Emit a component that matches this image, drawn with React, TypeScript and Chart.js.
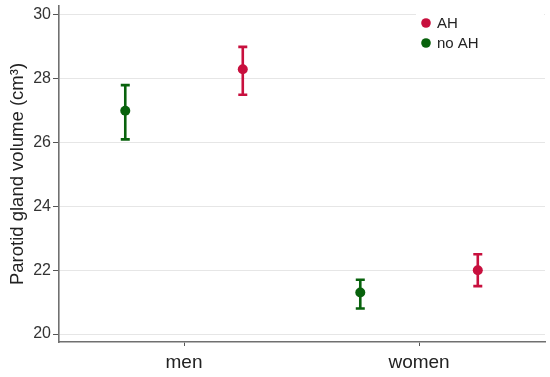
import React, { useEffect, useRef } from 'react';
import { Chart, registerables } from 'chart.js';

Chart.register(...registerables);

// ---- data ----
const categories = ['men', 'women'];
const seriesLabels = ['AH', 'no AH'];
const seriesColors = ['#c8103e', '#08620c'];
const ahMean = [28.3, 22.0];
const ahLow = [27.5, 21.5];
const ahHigh = [29.0, 22.5];
const noAhMean = [27.0, 21.3];
const noAhLow = [26.1, 20.8];
const noAhHigh = [27.8, 21.7];
const yTicks = [20, 22, 24, 26, 28, 30];
const seriesOffsets = [0.25, -0.25];

const FONT = "'Liberation Sans', Arial, sans-serif";

const errorBarPlugin = {
  id: 'errorBars',
  afterDatasetsDraw(chart: any) {
    const { ctx } = chart;
    const xs = chart.scales.x;
    const ys = chart.scales.y;
    chart.data.datasets.forEach((ds: any) => {
      ctx.save();
      ctx.strokeStyle = ds.backgroundColor;
      ctx.lineWidth = 2.6;
      ctx.lineCap = 'butt';
      ds.data.forEach((p: any) => {
        const x = xs.getPixelForValue(p.x);
        const y1 = ys.getPixelForValue(p.low);
        const y2 = ys.getPixelForValue(p.high);
        ctx.beginPath();
        ctx.moveTo(x, y1);
        ctx.lineTo(x, y2);
        ctx.moveTo(x - 4.5, y1);
        ctx.lineTo(x + 4.5, y1);
        ctx.moveTo(x - 4.5, y2);
        ctx.lineTo(x + 4.5, y2);
        ctx.stroke();
      });
      ctx.restore();
    });
  },
};

const legendPlugin = {
  id: 'customLegend',
  afterDraw(chart: any) {
    const { ctx } = chart;
    ctx.save();
    ctx.fillStyle = '#ffffff';
    ctx.fillRect(416, 9, 128, 46);
    chart.data.datasets.forEach((ds: any, i: number) => {
      const cy = 23 + i * 20;
      ctx.beginPath();
      ctx.fillStyle = ds.backgroundColor;
      ctx.arc(426, cy, 4.8, 0, Math.PI * 2);
      ctx.fill();
      ctx.fillStyle = '#222222';
      ctx.font = `15px ${FONT}`;
      ctx.textBaseline = 'middle';
      ctx.textAlign = 'left';
      ctx.fillText(ds.label, 437, cy + 1);
    });
    ctx.restore();
  },
};

export default function App() {
  const ref = useRef<HTMLCanvasElement | null>(null);

  useEffect(() => {
    document.body.style.margin = '0';
    const means = [ahMean, noAhMean];
    const lows = [ahLow, noAhLow];
    const highs = [ahHigh, noAhHigh];
    const datasets = seriesLabels.map((label, s) => ({
      label,
      backgroundColor: seriesColors[s],
      borderColor: seriesColors[s],
      pointRadius: 5,
      pointBorderWidth: 0,
      data: categories.map((_, i) => ({
        x: i + 1 + seriesOffsets[s],
        y: means[s][i],
        low: lows[s][i],
        high: highs[s][i],
      })),
    }));

    const chart = new Chart(ref.current as HTMLCanvasElement, {
      type: 'scatter',
      data: { datasets } as any,
      options: {
        animation: false,
        responsive: false,
        devicePixelRatio: 1,
        layout: { padding: { top: 6, right: 5, left: 0, bottom: 0 } },
        plugins: { legend: { display: false }, tooltip: { enabled: false } },
        scales: {
          x: {
            type: 'linear',
            min: 0.468,
            max: 2.536,
            afterBuildTicks: (scale: any) => {
              scale.ticks = categories.map((_, i) => ({ value: i + 1 }));
            },
            afterFit: (scale: any) => {
              scale.height = 35;
              scale.paddingLeft = 0;
              scale.paddingRight = 0;
            },
            ticks: {
              callback: (v: any) => categories[Math.round(v) - 1] ?? '',
              font: { family: FONT, size: 19 },
              color: '#222222',
              padding: 5,
              maxRotation: 0,
              autoSkip: false,
            },
            grid: { drawOnChartArea: false, tickLength: 4, tickColor: '#555555' },
            border: { color: '#707070', width: 1.6 },
          },
          y: {
            type: 'linear',
            min: 19.75,
            max: 30.28,
            afterBuildTicks: (scale: any) => {
              scale.ticks = yTicks.map((v) => ({ value: v }));
            },
            afterFit: (scale: any) => {
              scale.width = 59;
              scale.paddingTop = 0;
              scale.paddingBottom = 0;
            },
            ticks: {
              font: { family: FONT, size: 16 },
              color: '#333333',
              padding: 2,
            },
            grid: { color: '#e6e6e6', lineWidth: 1, tickLength: 6, tickColor: '#555555' },
            border: { color: '#707070', width: 1.6 },
            title: {
              display: true,
              text: 'Parotid gland volume (cm³)',
              font: { family: FONT, size: 18.5 },
              color: '#222222',
              padding: { top: 7, bottom: 0 },
            },
          },
        },
      },
      plugins: [errorBarPlugin, legendPlugin],
    });
    return () => chart.destroy();
  }, []);

  return (
    <div style={{ position: 'absolute', left: 0, top: 0, width: 550, height: 377, background: '#fff' }}>
      <canvas ref={ref} width={550} height={377} />
    </div>
  );
}
